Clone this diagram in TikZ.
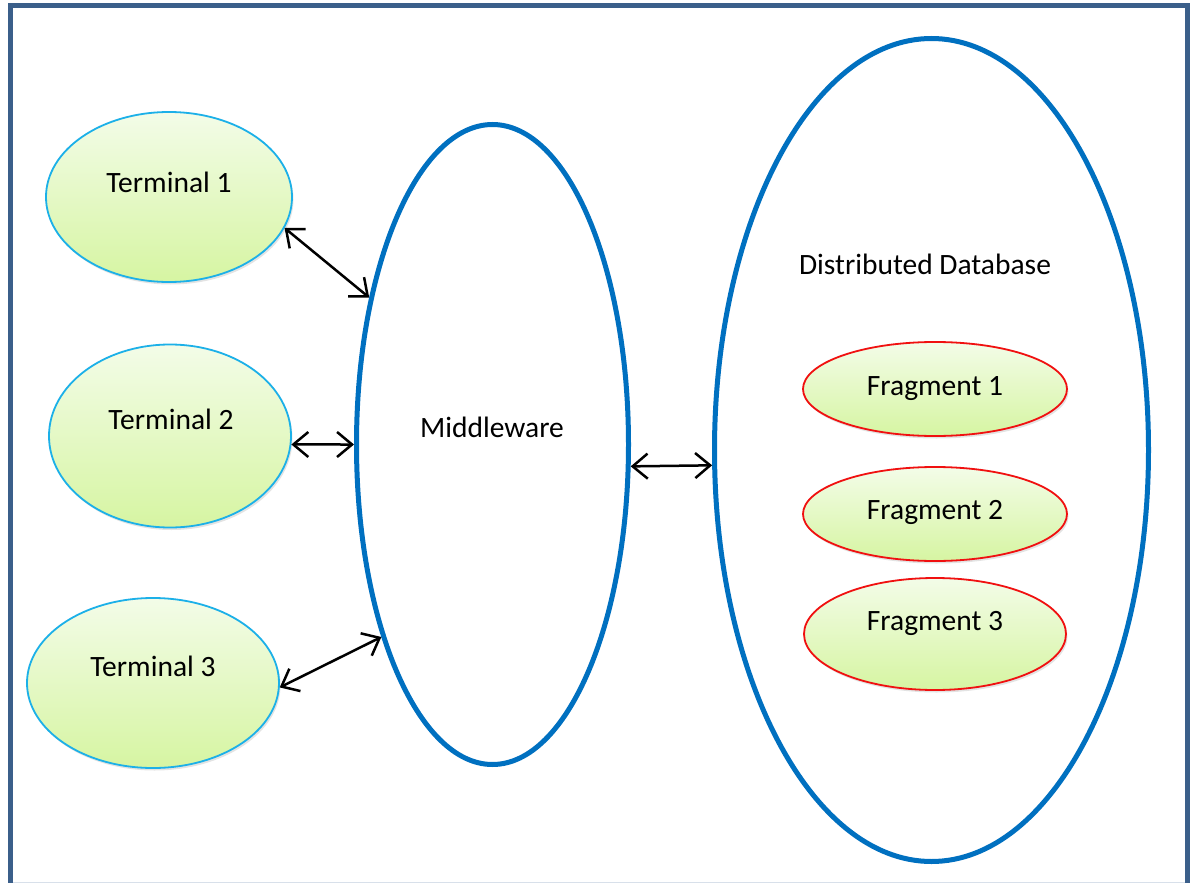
\documentclass[tikz,border=0pt]{standalone}
\usepackage{fontspec}
\setmainfont{Carlito}
\usetikzlibrary{shapes.geometric,arrows.meta,shadows}
\definecolor{framec}{HTML}{3B5F8A}
\definecolor{edgelight}{HTML}{D8E0EA}
\definecolor{ringblue}{HTML}{0070C0}
\definecolor{termline}{HTML}{1CB0E8}
\definecolor{fragline}{HTML}{F01010}
\definecolor{gtop}{HTML}{F3FCE8}
\definecolor{gbot}{HTML}{D6F5A2}
\begin{document}
\begin{tikzpicture}[x=1pt,y=-1pt,
  blob/.style={ellipse, inner sep=0pt, top color=gtop, bottom color=gbot,
    line width=1.8pt,
    drop shadow={opacity=0.22, shadow xshift=1.5pt, shadow yshift=-2.5pt}},
  terminal/.style={blob, draw=termline},
  fragment/.style={blob, draw=fragline},
  ring/.style={ellipse, inner sep=0pt, draw=ringblue, line width=5pt},
  lbl/.style={font=\fontsize{29.5}{34}\selectfont, inner sep=0pt, anchor=base},
  barb/.tip={Straight Barb[length=15pt,width=25pt]},
  link/.style={barb-barb, line width=2.5pt, black}]
\useasboundingbox (0,0) rectangle (1195,883);
\clip (0,0) rectangle (1195,883);
\fill[white] (0,0) rectangle (1195,883);

% page frame
\draw[framec, line width=4.7pt] (10.7,895) -- (10.7,5.2) -- (1187.5,5.2) -- (1187.5,895);
\draw[edgelight, line width=1pt] (13,882) -- (1185,882);

% middleware and database rings
\node[ring, minimum width=272pt, minimum height=640pt] (mw) at (492.5,444.5) {};
\node[ring, minimum width=434pt, minimum height=823pt] (db) at (931.5,450) {};

% terminals
\node[terminal, minimum width=246pt, minimum height=170pt] (t1) at (169,197) {};
\node[terminal, minimum width=242pt, minimum height=183pt] (t2) at (170,436) {};
\node[terminal, minimum width=252pt, minimum height=170pt] (t3) at (153,683) {};

% fragments
\node[fragment, minimum width=264pt, minimum height=94pt] (f1) at (935,389) {};
\node[fragment, minimum width=264pt, minimum height=94pt] (f2) at (935,514) {};
\node[fragment, minimum width=262pt, minimum height=112pt] (f3) at (935,634) {};

% labels
\node[lbl] (t1l) at (169,192) {Terminal 1};
\node[lbl] (t2l) at (171,429) {Terminal 2};
\node[lbl] (t3l) at (153,676) {Terminal 3};
\node[lbl] (mwl) at (492,437) {Middleware};
\node[lbl] (dbl) at (925,274) {Distributed Database};
\node[lbl] (f1l) at (935,395) {Fragment 1};
\node[lbl] (f2l) at (935,519) {Fragment 2};
\node[lbl] (f3l) at (935,630) {Fragment 3};

% connectors
\draw[link] (t1.-15.5) -- (mw.130.4);
\draw[link] (t2.-4) -- (mw.180);
\draw[link] (t3.-2) -- (mw.-120.7);
\draw[link] (mw.-9) -- (db.184.1);
\end{tikzpicture}
\end{document}
